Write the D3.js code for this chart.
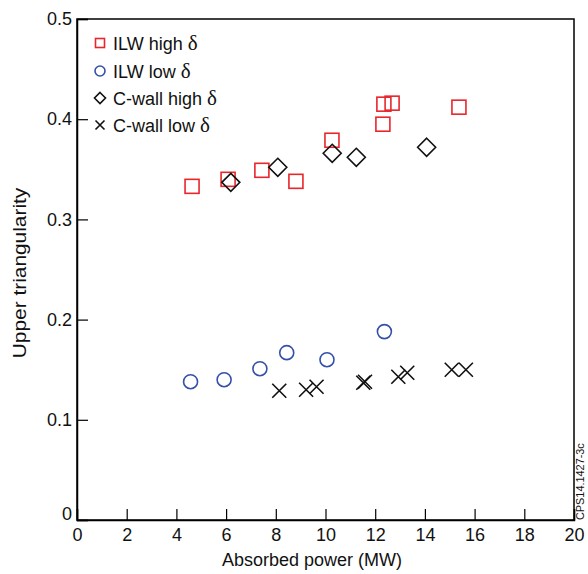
<!DOCTYPE html>
<html><head><meta charset="utf-8">
<script src="https://cdn.jsdelivr.net/npm/d3@7"></script>
<style>body{margin:0;background:#fff}svg{display:block}text{font-family:"Liberation Sans",Arial,sans-serif;fill:#111}</style>
</head><body>
<script>
const ilwHighX = [4.63, 6.08, 7.44, 8.81, 10.26, 12.31, 12.35, 12.68, 15.37];
const ilwHighY = [0.333, 0.340, 0.349, 0.338, 0.379, 0.395, 0.415, 0.416, 0.412];
const ilwLowX = [4.57, 5.92, 7.36, 8.44, 10.06, 12.37];
const ilwLowY = [0.138, 0.140, 0.151, 0.167, 0.160, 0.188];
const cHighX = [6.19, 8.08, 10.27, 11.24, 14.07];
const cHighY = [0.337, 0.352, 0.366, 0.362, 0.372];
const cLowX = [8.14, 9.22, 9.64, 11.59, 11.52, 12.93, 13.29, 15.08, 15.65];
const cLowY = [0.129, 0.130, 0.133, 0.138, 0.137, 0.143, 0.147, 0.150, 0.150];
const xTicks = [0,2,4,6,8,10,12,14,16,18,20];
const yTicks = [0,0.1,0.2,0.3,0.4,0.5];
const yTickLabels = ["0","0.1","0.2","0.3","0.4","0.5"];
const legendLabels = ["ILW high","ILW low","C-wall high","C-wall low"];

const W=588,H=574;
const m={l:77,r:14,t:19,b:54};
const svg=d3.select("body").append("svg").attr("width",W).attr("height",H);
const x=d3.scaleLinear().domain([0,20]).range([m.l,W-m.r]);
const y=d3.scaleLinear().domain([0,0.5]).range([H-m.b,m.t]);
const RED="#e8262b", BLUE="#3550a8", BLK="#111";

svg.append("rect").attr("x",x(0)).attr("y",y(0.5)).attr("width",x(20)-x(0)).attr("height",y(0)-y(0.5))
  .attr("fill","none").attr("stroke","#000").attr("stroke-width",1.5);

const xa=svg.append("g").attr("transform",`translate(0,${y(0)})`)
  .call(d3.axisBottom(x).tickValues(xTicks).tickSize(-11).tickPadding(8).tickFormat(d3.format("d")));
xa.select(".domain").attr("stroke-width",1.5);
xa.selectAll("line").attr("stroke-width",1.2);
xa.selectAll("text").attr("font-size",18).attr("font-family","Liberation Sans, Arial, sans-serif").attr("fill","#111");
const ya=svg.append("g").attr("transform",`translate(${x(0)},0)`)
  .call(d3.axisLeft(y).tickValues(yTicks).tickSize(-11).tickPadding(5).tickFormat((d,i)=>yTickLabels[i]));
ya.select(".domain").attr("stroke-width",1.5);
ya.selectAll("line").attr("stroke-width",1.2);
ya.selectAll("text").attr("font-size",18).attr("font-family","Liberation Sans, Arial, sans-serif").attr("fill","#111");
ya.selectAll(".tick").filter(d=>d===0).select("text").attr("dy","-0.05em");

svg.append("text").attr("x",312).attr("y",566).attr("text-anchor","middle").attr("font-size",18).text("Absorbed power (MW)");
svg.append("text").attr("transform",`translate(26,273) rotate(-90) scale(1.16,1)`).attr("text-anchor","middle").attr("font-size",18).text("Upper triangularity");
svg.append("text").attr("transform",`translate(584,520) rotate(-90) scale(1.09,1)`).attr("font-size",10).text("CPS14.1427-3c");

function square(g,cx,cy,s,c){g.append("rect").attr("x",cx-s/2).attr("y",cy-s/2).attr("width",s).attr("height",s).attr("fill","none").attr("stroke",c).attr("stroke-width",1.6);}
function circle(g,cx,cy,r,c){g.append("circle").attr("cx",cx).attr("cy",cy).attr("r",r).attr("fill","none").attr("stroke",c).attr("stroke-width",1.6);}
function diamond(g,cx,cy,h,c){g.append("path").attr("d",`M${cx},${cy-h}L${cx+h},${cy}L${cx},${cy+h}L${cx-h},${cy}Z`).attr("fill","none").attr("stroke",c).attr("stroke-width",1.6);}
function cross(g,cx,cy,h,c){g.append("path").attr("d",`M${cx-h},${cy-h}L${cx+h},${cy+h}M${cx-h},${cy+h}L${cx+h},${cy-h}`).attr("fill","none").attr("stroke",c).attr("stroke-width",1.6);}

const pg=svg.append("g");
ilwHighX.forEach((v,i)=>square(pg,x(v),y(ilwHighY[i]),14,RED));
ilwLowX.forEach((v,i)=>circle(pg,x(v),y(ilwLowY[i]),7,BLUE));
cHighX.forEach((v,i)=>diamond(pg,x(v),y(cHighY[i]),9,BLK));
cLowX.forEach((v,i)=>cross(pg,x(v),y(cLowY[i]),7,BLK));

const lg=svg.append("g");
const ly=[43,71,98,125];
const fns=[(g,a,b)=>square(g,a,b,9,RED),(g,a,b)=>circle(g,a,b,5,BLUE),(g,a,b)=>diamond(g,a,b,5.5,BLK),(g,a,b)=>cross(g,a,b,4.5,BLK)];
legendLabels.forEach((t,i)=>{
  fns[i](lg,100,ly[i]);
  const tx=lg.append("text").attr("x",113).attr("y",ly[i]+6.5).attr("font-size",18);
  tx.append("tspan").text(t+" ");
  tx.append("tspan").attr("font-family","Liberation Serif, Times New Roman, serif").attr("font-size",21).text("δ");
});
</script>
</body></html>
